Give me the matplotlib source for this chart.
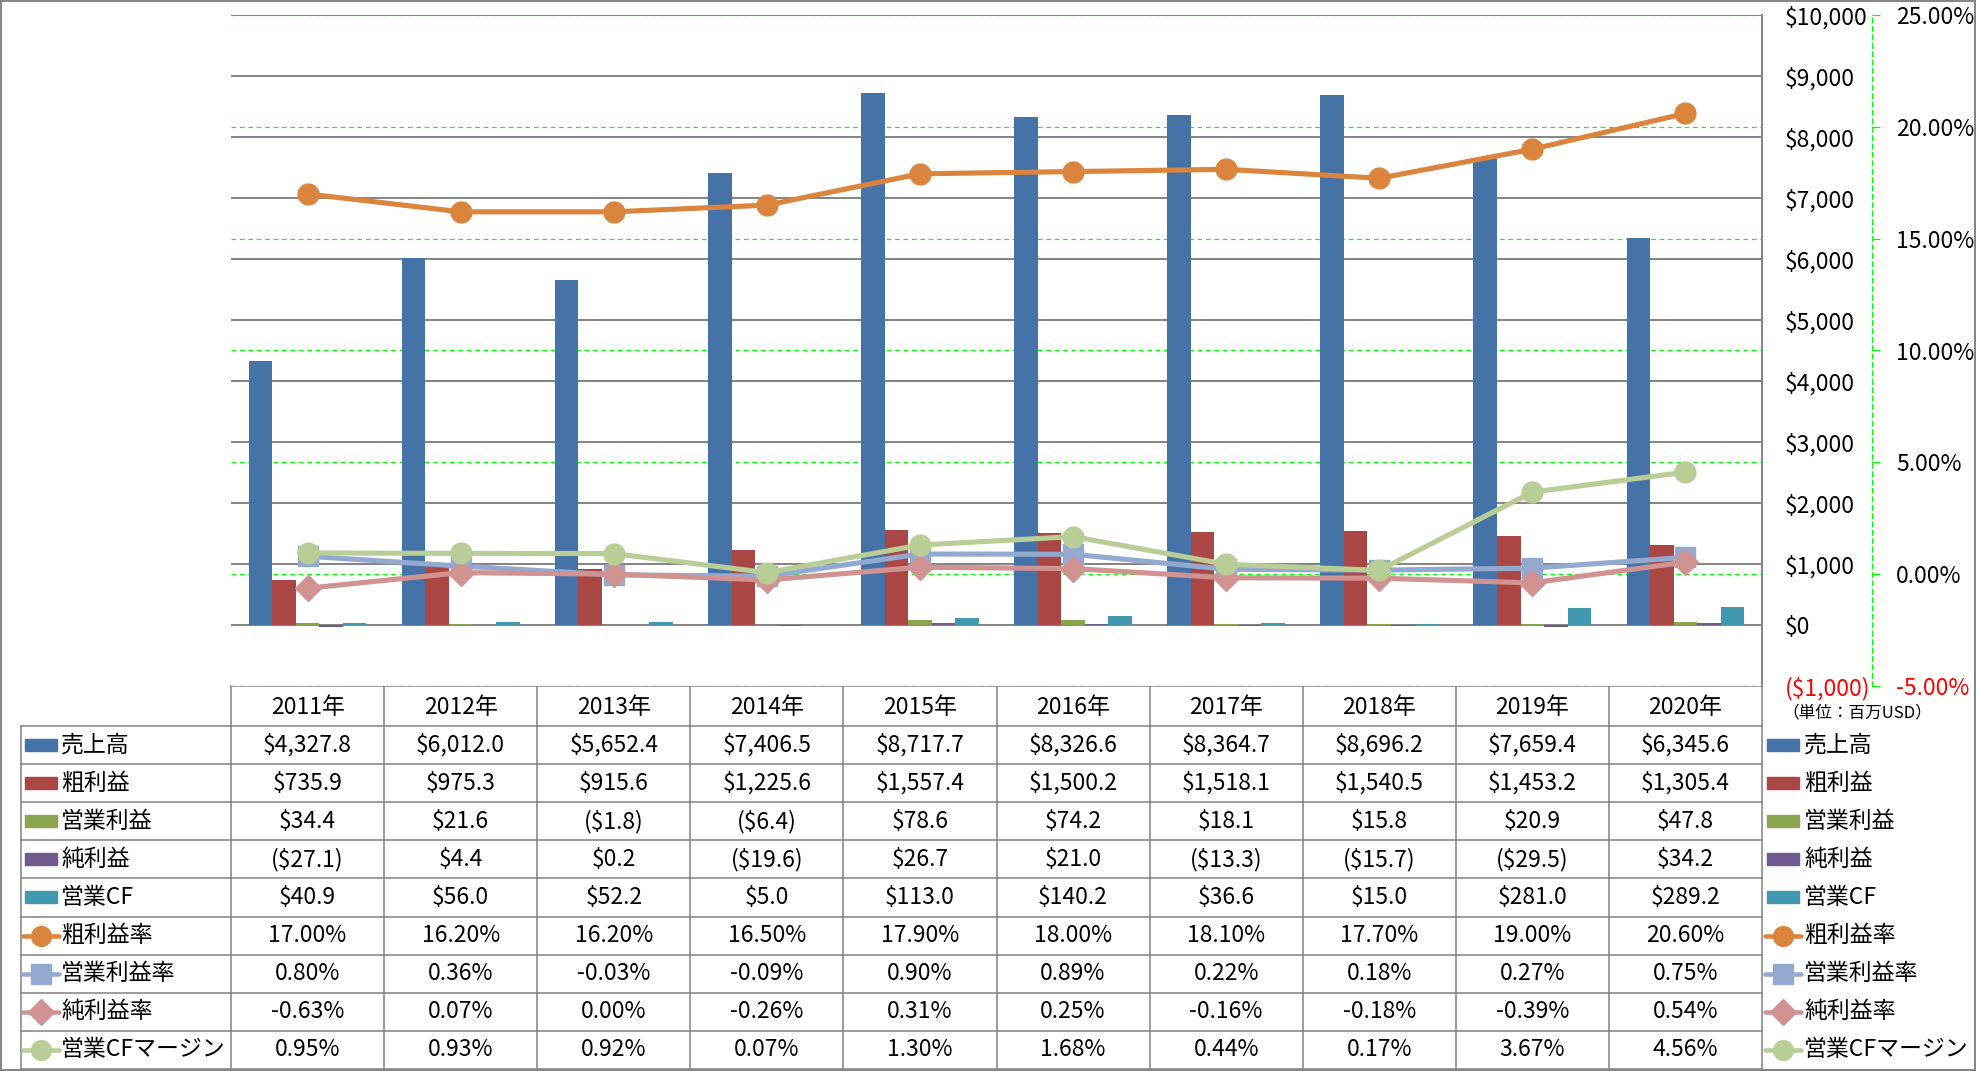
"""売上高・利益・キャッシュフローと各種利益率の推移 (2011-2020)."""

import matplotlib
matplotlib.use("Agg")
import matplotlib.pyplot as plt
from matplotlib.patches import Rectangle
from matplotlib.lines import Line2D
from matplotlib.transforms import blended_transform_factory

plt.rcParams["font.family"] = ["Noto Sans CJK JP", "DejaVu Sans"]

# --- データ ---
years = ["2011年", "2012年", "2013年", "2014年", "2015年",
         "2016年", "2017年", "2018年", "2019年", "2020年"]
sales = [4327.8, 6012.0, 5652.4, 7406.5, 8717.7, 8326.6, 8364.7, 8696.2, 7659.4, 6345.6]
gross_profit = [735.9, 975.3, 915.6, 1225.6, 1557.4, 1500.2, 1518.1, 1540.5, 1453.2, 1305.4]
operating_profit = [34.4, 21.6, -1.8, -6.4, 78.6, 74.2, 18.1, 15.8, 20.9, 47.8]
net_profit = [-27.1, 4.4, 0.2, -19.6, 26.7, 21.0, -13.3, -15.7, -29.5, 34.2]
operating_cf = [40.9, 56.0, 52.2, 5.0, 113.0, 140.2, 36.6, 15.0, 281.0, 289.2]
gross_margin = [17.00, 16.20, 16.20, 16.50, 17.90, 18.00, 18.10, 17.70, 19.00, 20.60]
operating_margin = [0.80, 0.36, -0.03, -0.09, 0.90, 0.89, 0.22, 0.18, 0.27, 0.75]
net_margin = [-0.63, 0.07, 0.00, -0.26, 0.31, 0.25, -0.16, -0.18, -0.39, 0.54]
cf_margin = [0.95, 0.93, 0.92, 0.07, 1.30, 1.68, 0.44, 0.17, 3.67, 4.56]

usd_ticks = list(range(-1000, 10001, 1000))
pct_ticks = list(range(-5, 26, 5))

bar_series = [
    ("売上高", sales, "#4572A7"),
    ("粗利益", gross_profit, "#AA4643"),
    ("営業利益", operating_profit, "#89A54E"),
    ("純利益", net_profit, "#71588F"),
    ("営業CF", operating_cf, "#4198AF"),
]
line_series = [
    ("粗利益率", gross_margin, "#DB843D", "o", 15),
    ("営業利益率", operating_margin, "#93A9CF", "s", 15),
    ("純利益率", net_margin, "#D19392", "D", 13.5),
    ("営業CFマージン", cf_margin, "#B9CD96", "o", 15),
]

# --- レイアウト (ピクセル) ---
W, H = 1976, 1071
PX = 0.72  # 1px をポイントに換算 (dpi=100)
plot_l, plot_r, plot_t, plot_b = 231, 1762, 15, 686
tab_top, row0, row_h = 686, 726, 38.1
col_w = (plot_r - plot_l) / len(years)
GRAY = "#868686"
LIME = "#00FF00"
FS = 16.5


def fmt_usd(v, dec=1):
    s = f"${abs(v):,.{dec}f}"
    return f"({s})" if v < 0 else s


fig = plt.figure(figsize=(W / 100, H / 100), dpi=100)
fig.patch.set_facecolor("white")

ax = fig.add_axes([plot_l / W, 1 - plot_b / H, (plot_r - plot_l) / W, (plot_b - plot_t) / H])
ax.set_xlim(-0.5, len(years) - 0.5)
ax.set_ylim(-1000, 10000)
ax2 = ax.twinx()
ax2.set_ylim(-5, 25)

# 目盛線 (棒の背後)
for v in usd_ticks:
    if v >= 0:
        ax.axhline(v, color=GRAY, lw=2 * PX, zorder=0.6)
pct_tr = blended_transform_factory(ax.transAxes, ax2.transData)
for p in pct_ticks:
    ax.plot([0, 1], [p, p], transform=pct_tr, color=LIME, lw=1.2 * PX,
            dashes=(4, 3), zorder=0.5)

# 棒グラフ
n = len(bar_series)
bw = 1 / (n + 1.5)
for k, (name, vals, color) in enumerate(bar_series):
    xs = [i + (k - (n - 1) / 2) * bw for i in range(len(years))]
    ax.bar(xs, vals, width=bw, color=color, zorder=2)

# 折れ線
for name, vals, color, mk, ms in line_series:
    ax2.plot(range(len(years)), vals, color=color, lw=3.7, marker=mk,
             ms=ms, markeredgecolor=color, markerfacecolor=color,
             solid_capstyle="round", zorder=3)

# 主軸 (右側・ドル)
ax.yaxis.tick_right()
ax.tick_params(axis="y", length=0, pad=23 * PX, labelsize=FS)
ax.set_yticks(usd_ticks)
ax.set_yticklabels([fmt_usd(v, 0) for v in usd_ticks], fontsize=FS)
ax.get_yticklabels()[0].set_color("red")
ax.set_xticks([])
for side in ["left", "top", "bottom"]:
    ax.spines[side].set_visible(False)
ax.spines["right"].set_color(GRAY)
ax.spines["right"].set_linewidth(2 * PX)

# 第2軸 (パーセント)
ax2.spines["right"].set_position(("outward", 110 * PX))
ax2.spines["right"].set_color(LIME)
ax2.spines["right"].set_linestyle((0, (4, 3)))
ax2.spines["right"].set_linewidth(1.2 * PX)
ax2.tick_params(axis="y", direction="out", length=8 * PX, width=1.2 * PX,
                color=LIME, pad=16 * PX, labelsize=FS)
ax2.set_yticks(pct_ticks)
ax2.set_yticklabels([f"{p:.2f}%" for p in pct_ticks], fontsize=FS)
ax2.get_yticklabels()[0].set_color("red")
for side in ["left", "top", "bottom"]:
    ax2.spines[side].set_visible(False)

# --- データテーブルと凡例 ---
tab = fig.add_axes([0, 0, 1, 1])
tab.set_xlim(0, W)
tab.set_ylim(H, 0)
tab.axis("off")
tab.patch.set_alpha(0)
tab.set_zorder(-1)

lw_t = 1.6 * PX
bottom = row0 + row_h * 9
# 外枠
tab.add_patch(Rectangle((1, 1), W - 2.5, H - 2.5, fill=False, ec=GRAY, lw=2 * PX))
# 横線
tab.plot([plot_l, plot_r], [tab_top, tab_top], color=GRAY, lw=lw_t)
for r in range(10):
    y = row0 + r * row_h
    tab.plot([21, plot_r], [y, y], color=GRAY, lw=lw_t)
# 縦線
tab.plot([21, 21], [row0, bottom], color=GRAY, lw=lw_t)
for c in range(len(years) + 1):
    x = plot_l + c * col_w
    tab.plot([x, x], [tab_top, bottom], color=GRAY, lw=lw_t)
tab.plot([plot_r, plot_r], [bottom, H], color=GRAY, lw=lw_t)

for i, yr in enumerate(years):
    tab.text(plot_l + (i + 0.5) * col_w, (tab_top + row0) / 2 + 1, yr, fontsize=FS,
             ha="center", va="center")

rows = []
for name, vals, color in bar_series:
    rows.append((name, [fmt_usd(v) for v in vals], ("bar", color)))
for name, vals, color, mk, ms in line_series:
    rows.append((name, [f"{v:.2f}%" for v in vals], ("line", color, mk, ms)))


def draw_key(x0, x1, yc, style):
    if style[0] == "bar":
        tab.add_patch(Rectangle((x0, yc - 6), x1 - x0, 12, color=style[1]))
    else:
        _, color, mk, ms = style
        tab.add_line(Line2D([x0 - 2, x1 + 2], [yc, yc], color=color, lw=4.5 * PX,
                            solid_capstyle="round"))
        tab.add_line(Line2D([(x0 + x1) / 2], [yc], marker=mk, ms=ms * 0.95,
                            color=color, markeredgecolor=color))


for r, (name, texts, style) in enumerate(rows):
    yc = row0 + (r + 0.5) * row_h
    draw_key(25, 57, yc, style)
    tab.text(61, yc, name, fontsize=FS, ha="left", va="center")
    for i, t in enumerate(texts):
        tab.text(plot_l + (i + 0.5) * col_w, yc, t, fontsize=FS, ha="center", va="center")
    draw_key(1767, 1799, yc, style)
    tab.text(1804, yc, name, fontsize=FS, ha="left", va="center")

tab.text(1782, 713, "（単位：百万USD）", fontsize=12, ha="left", va="center")

fig.savefig("out.png", dpi=100)
